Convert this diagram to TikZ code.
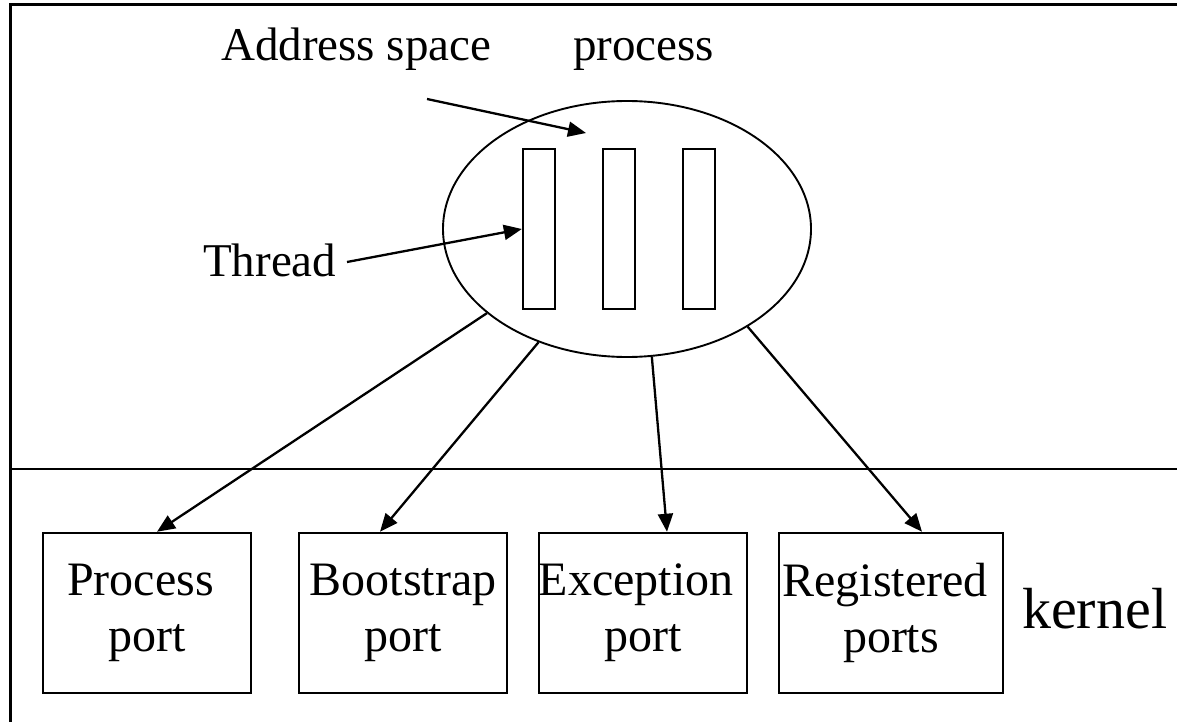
\documentclass[tikz,border=0pt]{standalone}
\usepackage{fontspec}
\setmainfont{Liberation Serif}
\usetikzlibrary{arrows.meta,shapes.geometric}
\begin{document}
\begin{tikzpicture}[x=1pt,y=-1pt,
  lbl/.style={font=\fontsize{47}{56}\selectfont, inner sep=0pt},
  portbox/.style={draw, line width=2.5pt, minimum width=#1, minimum height=160pt, inner sep=0pt, align=center, font=\fontsize{48}{56}\selectfont},
  thr/.style={draw, line width=2.3pt, minimum width=32pt, minimum height=160pt, inner sep=0pt},
  conn/.style={line width=2.3pt, -{Triangle[length=18pt,width=15pt]}},
  frame/.style={line width=3pt}]
\useasboundingbox (0,0) rectangle (1177,722);
\draw[frame] (10.5,722) -- (10.5,5) -- (1177,5);
\draw[line width=2.3pt] (10.5,469) -- (1177,469);
\node[draw, ellipse, line width=1.9pt, minimum width=368pt, minimum height=256pt, inner sep=0pt] (proc) at (627,229) {};
\node[thr] (t1) at (539,229) {};
\node[thr] (t2) at (619,229) {};
\node[thr] (t3) at (699,229) {};
\node[lbl, anchor=base west] (as) at (221,61) {Address space};
\node[lbl, anchor=base west] (pl) at (573,61) {process};
\node[lbl, anchor=base west] (th) at (203,276) {Thread};
\node[anchor=base west, inner sep=0pt, font=\fontsize{58}{60}\selectfont] (k) at (1022,628) {kernel};
\node[portbox=208pt] (pp) at (147,613) {\hspace*{-13pt}Process\\port};
\node[portbox=208pt] (bp) at (403,613) {Bootstrap\\port};
\node[portbox=208pt] (ep) at (643,613) {\hspace*{-14pt}Exception\\port};
\node[portbox=224pt] (rp) at (891,613) {\hspace*{-12pt}Registered\\ports};
\coordinate (asS) at (427,99);
\coordinate (asE) at (586,133);
\coordinate (thS) at (347,262);
\draw[conn] (asS) -- (asE);
\draw[conn] (thS) -- (t1.west);
\draw[conn] (proc.211) -- ([xshift=10pt]pp.north);
\draw[conn] (proc.232) -- ([xshift=-23pt]bp.north);
\draw[conn] (proc.281) -- ([xshift=24pt]ep.north);
\draw[conn] (proc.321) -- ([xshift=31pt]rp.north);
\end{tikzpicture}
\end{document}
